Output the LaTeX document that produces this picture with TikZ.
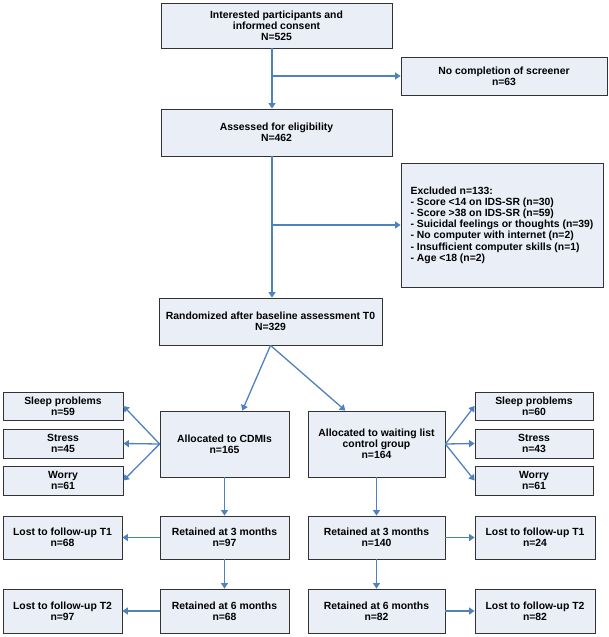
\documentclass[tikz,border=0pt]{standalone}
\usepackage{fontspec}
\setmainfont{Liberation Sans}
\usetikzlibrary{arrows.meta}

\definecolor{boxfill}{RGB}{233,238,247}
\definecolor{arrowblue}{RGB}{79,129,189}

\tikzset{
    flowbox/.style={draw=black!80, line width=0.8pt, fill=boxfill, inner sep=2pt,
        align=center, font=\bfseries\fontsize{10.4}{11.2}\selectfont},
    flowarrow/.style={draw=arrowblue, line width=1.3pt, -{Triangle[width=7pt,length=5.5pt]}},
}

\begin{document}
\begin{tikzpicture}[x=1pt, y=-1pt]

        \useasboundingbox (0,0) rectangle (609,637);

        % Defining the main stream of the flow
        \node[flowbox, minimum width=231, minimum height=45] (consent) at (276.5,25.5)
            {Interested participants and\\informed consent\\N=525};
        \node[flowbox, minimum width=206, minimum height=38] (nocomp) at (504,76)
            {No completion of screener\\n=63};
        \node[flowbox, minimum width=231, minimum height=47] (assessed) at (276.5,132.5)
            {Assessed for eligibility\\N=462};
        \node[flowbox, minimum width=202, minimum height=124, align=left] (excluded) at (502,225)
            {Excluded n=133:\\- Score <14 on IDS-SR (n=30)\\- Score >38 on IDS-SR (n=59)\\
             - Suicidal feelings or thoughts (n=39)\\- No computer with internet (n=2)\\
             - Insufficient computer skills (n=1)\\- Age <18 (n=2)};
        \node[flowbox, minimum width=223, minimum height=47] (random) at (270.5,321.5)
            {Randomized after baseline assessment T0\\N=329};
        \coordinate (spine) at (272,0);

        % Defining the two arms
        \node[flowbox, minimum width=129, minimum height=66] (cdmi) at (224.5,444)
            {Allocated to CDMIs\\n=165};
        \node[flowbox, minimum width=137, minimum height=66] (wait) at (376.5,444)
            {Allocated to waiting list\\control group\\n=164};

        % Defining the modules
        \node[flowbox, minimum width=120, minimum height=28] (sleepA) at (63,406) {Sleep problems\\n=59};
        \node[flowbox, minimum width=120, minimum height=29] (stressA) at (63,443.5) {Stress\\n=45};
        \node[flowbox, minimum width=120, minimum height=29] (worryA) at (63,480.5) {Worry\\n=61};
        \node[flowbox, minimum width=118, minimum height=28] (sleepB) at (534,406) {Sleep problems\\n=60};
        \node[flowbox, minimum width=118, minimum height=29] (stressB) at (534,443.5) {Stress\\n=43};
        \node[flowbox, minimum width=118, minimum height=29] (worryB) at (534,480.5) {Worry\\n=61};

        % Defining the follow-up
        \node[flowbox, minimum width=129, minimum height=43] (retA3) at (224.5,537.5) {Retained at 3 months\\n=97};
        \node[flowbox, minimum width=129, minimum height=44] (retA6) at (224.5,611) {Retained at 6 months\\n=68};
        \node[flowbox, minimum width=119, minimum height=43] (lostA1) at (62.5,537.5) {Lost to follow-up T1\\n=68};
        \node[flowbox, minimum width=119, minimum height=44] (lostA2) at (62.5,611) {Lost to follow-up T2\\n=97};
        \node[flowbox, minimum width=137, minimum height=43] (retB3) at (376.5,537.5) {Retained at 3 months\\n=140};
        \node[flowbox, minimum width=137, minimum height=44] (retB6) at (376.5,611) {Retained at 6 months\\n=82};
        \node[flowbox, minimum width=120, minimum height=43] (lostB1) at (535,537.5) {Lost to follow-up T1\\n=24};
        \node[flowbox, minimum width=120, minimum height=44] (lostB2) at (535,611) {Lost to follow-up T2\\n=82};

        % Defining the links between the boxes
        \draw[flowarrow] (consent.south -| spine) -- (assessed.north -| spine);
        \draw[flowarrow] (spine |- nocomp.west) -- (nocomp.west);
        \draw[flowarrow] (assessed.south -| spine) -- (random.north -| spine);
        \draw[flowarrow] (spine |- excluded.west) -- (excluded.west);
        \draw[flowarrow] (random.south) -- (cdmi.62);
        \draw[flowarrow] (random.south) -- (wait.133);

        \draw[flowarrow] (cdmi.west) -- (sleepA.east);
        \draw[flowarrow] (cdmi.west) -- (stressA.east);
        \draw[flowarrow] (cdmi.west) -- (worryA.east);
        \draw[flowarrow] (wait.east) -- (sleepB.west);
        \draw[flowarrow] (wait.east) -- (stressB.west);
        \draw[flowarrow] (wait.east) -- (worryB.west);

        \draw[flowarrow] (cdmi) -- (retA3);
        \draw[flowarrow] (retA3) -- (retA6);
        \draw[flowarrow] (retA3) -- (lostA1);
        \draw[flowarrow] (retA6) -- (lostA2);
        \draw[flowarrow] (wait) -- (retB3);
        \draw[flowarrow] (retB3) -- (retB6);
        \draw[flowarrow] (retB3) -- (lostB1);
        \draw[flowarrow] (retB6) -- (lostB2);

\end{tikzpicture}
\end{document}
